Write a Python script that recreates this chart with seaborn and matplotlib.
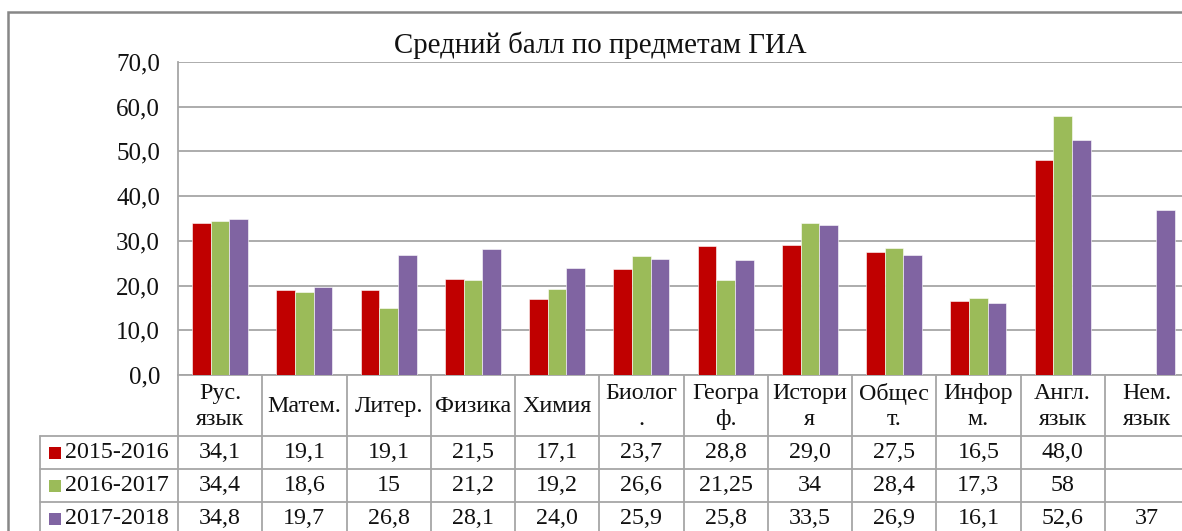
import numpy as np
import pandas as pd
import matplotlib
matplotlib.use("Agg")
import matplotlib.pyplot as plt
import matplotlib.transforms as mtransforms
from matplotlib.lines import Line2D
from matplotlib.patches import Rectangle
import seaborn as sns

# ---------------- data ----------------
subjects = ["Рус.\nязык", "Матем.", "Литер.", "Физика", "Химия", "Биолог\n.",
            "Геогра\nф.", "Истори\nя", "Общес\nт.", "Инфор\nм.", "Англ.\nязык", "Нем.\nязык"]
years = ["2015-2016", "2016-2017", "2017-2018"]
vals_2015 = ["34,1", "19,1", "19,1", "21,5", "17,1", "23,7", "28,8", "29,0", "27,5", "16,5", "48,0", ""]
vals_2016 = ["34,4", "18,6", "15", "21,2", "19,2", "26,6", "21,25", "34", "28,4", "17,3", "58", ""]
vals_2017 = ["34,8", "19,7", "26,8", "28,1", "24,0", "25,9", "25,8", "33,5", "26,9", "16,1", "52,6", "37"]
colors = ["#C00000", "#9BBB59", "#8064A2"]
yticks = [0, 10, 20, 30, 40, 50, 60, 70]
title = "Средний балл по предметам ГИА"

table_text = [vals_2015, vals_2016, vals_2017]


def to_num(s):
    return float(s.replace(",", ".")) if s else np.nan


rows = []
for yr, vals in zip(years, table_text):
    for subj, v in zip(subjects, vals):
        rows.append({"subject": subj, "year": yr, "score": to_num(v)})
df = pd.DataFrame(rows)

# ---------------- figure ----------------
W, H = 1182, 531
sns.set_theme(style="white")
plt.rcParams["font.family"] = ["Liberation Serif", "DejaVu Serif"]
FS = 17.3
TXT = "#111111"

fig = plt.figure(figsize=(W / 100, H / 100), dpi=100)
fig.patch.set_facecolor("white")

ax_left, ax_right, ax_top, ax_bottom = 178, 1189, 62, 375
ax = fig.add_axes([ax_left / W, 1 - ax_bottom / H, (ax_right - ax_left) / W, (ax_bottom - ax_top) / H])

sns.barplot(data=df, x="subject", y="score", hue="year", order=subjects, hue_order=years,
            palette=colors, width=0.667, saturation=1, errorbar=None, legend=False,
            edgecolor="white", linewidth=0.4, ax=ax, zorder=3)

ax.set_xlim(-0.5, len(subjects) - 0.5)
ax.set_ylim(0, 70)
ax.set_yticks(yticks)
ax.set_yticklabels([f"{t:.1f}".replace(".", ",") for t in yticks], fontsize=18, color=TXT)
ax.set_xticks([])
ax.set_xlabel("")
ax.set_ylabel("")
ax.tick_params(axis="y", length=0, pad=13)
ax.yaxis.grid(True, color="#A6A6A6", linewidth=1.3, zorder=0)
ax.set_axisbelow(True)
for s in ["top", "right"]:
    ax.spines[s].set_visible(False)
for s in ["left", "bottom"]:
    ax.spines[s].set_color("#A6A6A6")
    ax.spines[s].set_linewidth(1.3)

# ---------------- outer chart frame ----------------
fig.patches.append(Rectangle((8 / W, 1 - 540 / H), (1200 - 8) / W, (540 - 12) / H,
                             transform=fig.transFigure, fill=False,
                             edgecolor="#878787", linewidth=1.8, zorder=0))

fig.text(600 / W, 1 - 45 / H, title, ha="center", va="center", fontsize=20.8, color=TXT)

# ---------------- data table ----------------
tr = mtransforms.blended_transform_factory(ax.transData, fig.transFigure)


def fy(y):
    return 1 - y / H


grid_c = "#A6A6A6"
header_top, header_bot = 375, 436
row_lines = [436, 469, 502]
row_centers = [452.5, 485.5, 519]
table_bottom = 540
n = len(subjects)

# vertical lines between categories
for i in range(n + 1):
    fig.add_artist(Line2D([i - 0.5, i - 0.5], [fy(header_top), fy(table_bottom)],
                          transform=tr, color=grid_c, linewidth=1.3))
# horizontal row lines
for y in row_lines:
    fig.add_artist(Line2D([40 / W, 1.0], [fy(y), fy(y)], transform=fig.transFigure,
                          color=grid_c, linewidth=1.3))
# left border of label column
fig.add_artist(Line2D([40 / W, 40 / W], [fy(436), fy(table_bottom)], transform=fig.transFigure,
                      color=grid_c, linewidth=1.3))

# header labels
for i, s in enumerate(subjects):
    fig.text(i, fy((header_top + header_bot) / 2 + 1), s, transform=tr, ha="center", va="center",
             fontsize=FS, color=TXT, linespacing=1.3)

# values + row labels
for r, (yr, vals, c) in enumerate(zip(years, table_text, colors)):
    yc = row_centers[r]
    fig.patches.append(Rectangle((49 / W, fy(yc + 6)), 12 / W, 12 / H, transform=fig.transFigure,
                                 facecolor=c, edgecolor="none"))
    fig.text(65 / W, fy(yc), yr, ha="left", va="center", fontsize=FS, color=TXT)
    for i, v in enumerate(vals):
        if v:
            fig.text(i, fy(yc), v, transform=tr, ha="center", va="center", fontsize=FS, color=TXT)

fig.savefig("out.png", dpi=100)
